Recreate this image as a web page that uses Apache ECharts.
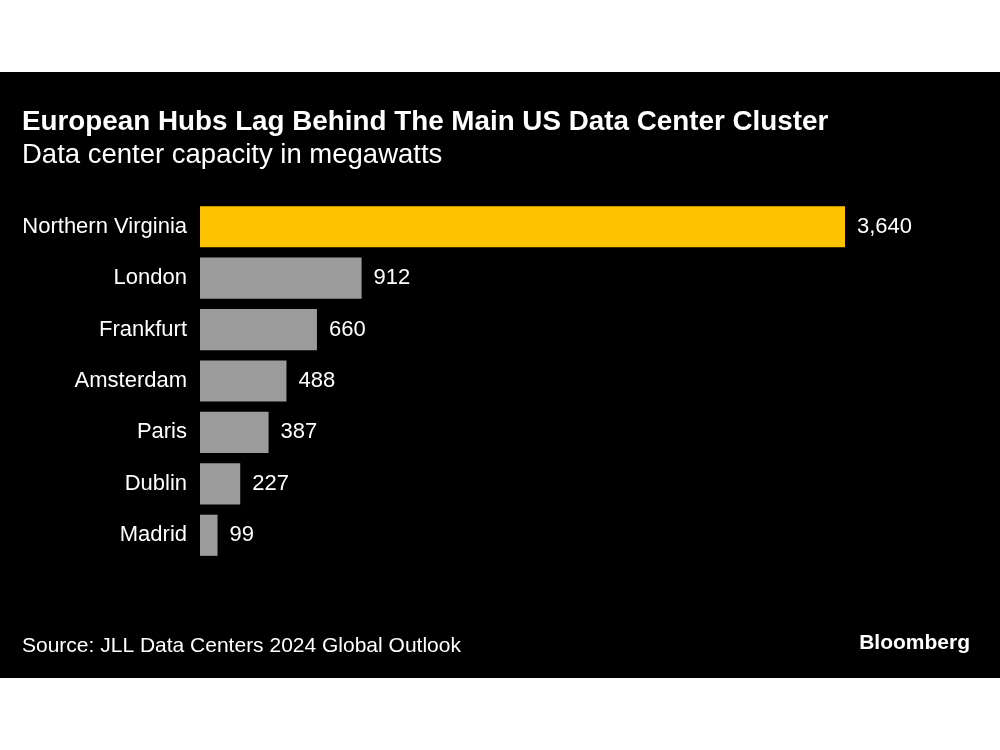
<!DOCTYPE html>
<html><head><meta charset="utf-8">
<script src="https://cdn.jsdelivr.net/npm/echarts@6/dist/echarts.min.js"></script>
<style>html,body{margin:0;padding:0;background:#fff}#c{width:1000px;height:750px}</style>
</head><body><div id="c"></div>
<script>
const categories = ["Northern Virginia","London","Frankfurt","Amsterdam","Paris","Dublin","Madrid"];
const values = [3640,912,660,488,387,227,99];
const highlight = "Northern Virginia";

const FONT = "'Liberation Sans', Arial, sans-serif";
const chart = echarts.init(document.getElementById('c'), null, {renderer:'canvas'});
chart.setOption({
  backgroundColor: '#ffffff',
  animation: false,
  graphic: [
    {type:'rect', z:-10, silent:true, shape:{x:0,y:72,width:1000,height:606}, style:{fill:'#000000'}},
    {type:'text', style:{x:22, y:122, verticalAlign:'middle', text:'European Hubs Lag Behind The Main US Data Center Cluster', fill:'#ffffff', font:'bold 27.8px '+FONT}},
    {type:'text', style:{x:22, y:155, verticalAlign:'middle', text:'Data center capacity in megawatts', fill:'#ffffff', font:'27.5px '+FONT}},
    {type:'text', style:{x:22, y:646, verticalAlign:'middle', text:'Source: JLL Data Centers 2024 Global Outlook', fill:'#ffffff', font:'21px '+FONT}},
    {type:'text', style:{x:970, y:643, align:'right', verticalAlign:'middle', text:'Bloomberg', fill:'#ffffff', font:'bold 21px '+FONT}}
  ],
  grid: {left:200, right:155, top:201, bottom:189, containLabel:false},
  xAxis: {type:'value', min:0, max:3640, show:false},
  yAxis: {
    type:'category', inverse:true, data:categories,
    axisLine:{show:false}, axisTick:{show:false}, splitLine:{show:false},
    axisLabel:{color:'#ffffff', fontSize:22, fontFamily:FONT, margin:13}
  },
  series: [{
    type:'bar', barWidth:'80%',
    data: categories.map((c,i)=>({value:values[i], itemStyle:{color: c===highlight ? '#fdc200' : '#9b9b9b'}})),
    label:{show:true, position:'right', distance:12, color:'#ffffff', fontSize:22, fontFamily:FONT,
      formatter: p => p.value.toLocaleString('en-US')}
  }]
});
</script></body></html>
